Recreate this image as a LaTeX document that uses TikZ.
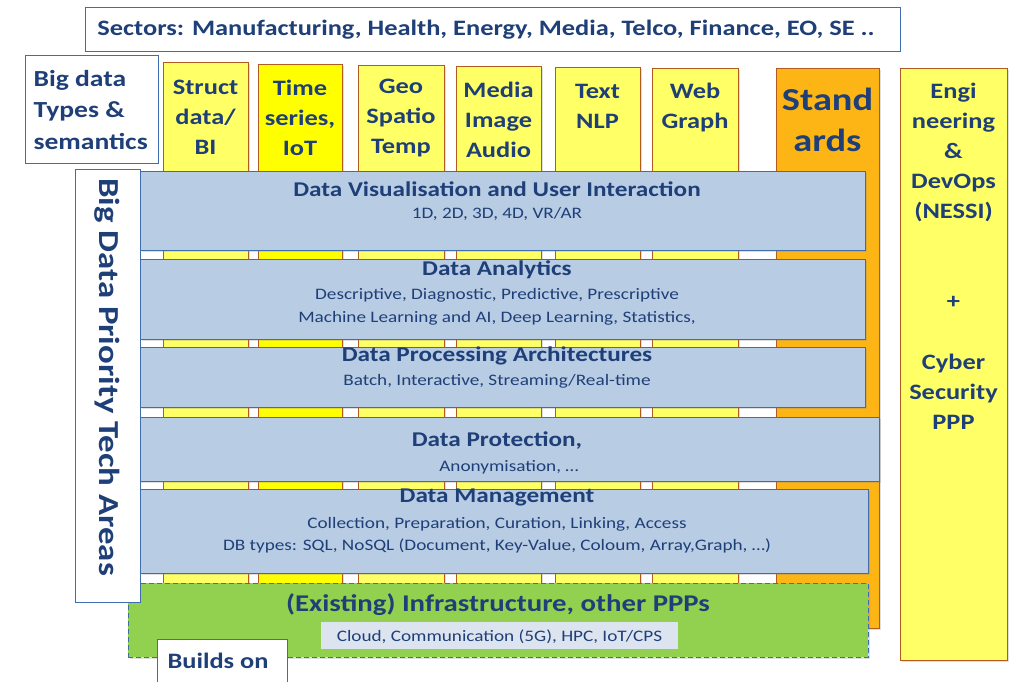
\documentclass[tikz,border=0pt]{standalone}
\usepackage{fontspec}
\setmainfont{Carlito}[FakeStretch=1.2]
\usetikzlibrary{fit,shadows}
\definecolor{txt}{HTML}{1F3F78}
\definecolor{bord}{HTML}{3F6DB0}
\definecolor{layerfill}{HTML}{B8CCE4}
\definecolor{ylw}{HTML}{FFFF66}
\definecolor{ylwB}{HTML}{FFFF00}
\definecolor{colB}{HTML}{B35A1F}
\definecolor{orng}{HTML}{FDB515}
\definecolor{grn}{HTML}{92D050}
\definecolor{cloudfill}{HTML}{DCE4EF}
\tikzset{
  shd/.style={drop shadow={opacity=0.25, shadow xshift=1.5pt, shadow yshift=-1.5pt}},
  wbox/.style={draw=bord, line width=1pt, fill=white, inner sep=0pt},
  colbox/.style={draw=colB, line width=1pt, fill=ylw, inner sep=0pt, shd},
  layerbox/.style={draw=bord, line width=1pt, fill=layerfill, inner sep=0pt, shd},
  coltxt/.style={text=txt, align=center, font=\bfseries\fontsize{22}{30}\selectfont},
  ttl/.style={text=txt, font=\bfseries\fontsize{21}{25}\selectfont},
  subt/.style={text=txt, align=center, font=\fontsize{16}{22.5}\selectfont},
}
\begin{document}
\begin{tikzpicture}[x=1pt,y=-1pt]
\useasboundingbox (0,0) rectangle (1018,681);
% columns
\node[colbox, fit={(163,62) (248,590)}] (struct) {};
\node[colbox, fill=ylwB, fit={(258,64) (342,590)}] (time) {};
\node[colbox, fit={(358,65) (444,590)}] (geo) {};
\node[colbox, fit={(456,66) (541,590)}] (media) {};
\node[colbox, fit={(555,67) (640,590)}] (textc) {};
\node[colbox, fit={(652,68) (738,590)}] (web) {};
\node[colbox, fill=orng, fit={(776,68) (879,628)}] (stand) {};
\node[colbox, fit={(900,68) (1007,660)}] (eng) {};
\node[coltxt] (structT) at (205.5,117) {Struct\\data/\\BI};
\node[coltxt] (timeT) at (300,118) {Time\\series,\\IoT};
\node[coltxt] (geoT) at (401,118) {Geo\\Spatio\\Temp};
\node[coltxt] (mediaT) at (498.5,120) {Media\\Image\\Audio};
\node[coltxt] (textT) at (597.5,106) {Text\\NLP};
\node[coltxt] (webT) at (695,108) {Web\\Graph};
\node[coltxt, font=\bfseries\fontsize{32}{41}\selectfont] (standT) at (827.5,120) {Stand\\ards};
\node[coltxt] (engT) at (953.5,152) {Engi\\neering\\\&\\DevOps\\(NESSI)};
\node[coltxt] (plusT) at (953.5,302) {+};
\node[coltxt] (cyberT) at (953.5,392) {Cyber\\Security\\PPP};
% layers
\node[layerbox, fit={(140,171) (865,250)}] (vis) {};
\node[ttl] (visT) at (497,189) {Data Visualisation and User Interaction};
\node[subt] (visS) at (497,214) {1D, 2D, 3D, 4D, VR/AR};
\node[layerbox, fit={(140,259) (865,339)}] (ana) {};
\node[ttl] (anaT) at (497,270) {Data Analytics};
\node[subt] (anaS) at (497,307) {Descriptive, Diagnostic, Predictive, Prescriptive\\Machine Learning and AI, Deep Learning, Statistics,};
\node[layerbox, fit={(140,347) (865,407)}] (proc) {};
\node[ttl] (procT) at (497,356) {Data Processing Architectures};
\node[subt] (procS) at (497,381) {Batch, Interactive, Streaming/Real-time};
\node[layerbox, fit={(139,417) (879,481)}] (prot) {};
\node[ttl] (protT) at (497,441) {Data Protection,};
\node[subt] (protS) at (509,467) {Anonymisation, \dots};
\node[layerbox, fit={(140,489) (868,573)}] (man) {};
\node[ttl] (manT) at (497,497) {Data Management};
\node[subt] (manS) at (497,535) {Collection, Preparation, Curation, Linking, Access\\DB types: SQL, NoSQL (Document, Key-Value, Coloum, Array,Graph, \dots)};
% infrastructure
\node[draw=bord, dash pattern=on 5pt off 3pt, line width=1pt, fill=grn, inner sep=0pt, shd, fit={(128,583) (868,657)}] (infra) {};
\node[text=txt, font=\bfseries\fontsize{24}{28}\selectfont] (infraT) at (498,605) {(Existing) Infrastructure, other PPPs};
\node[fill=cloudfill, inner sep=0pt, fit={(321,622) (678,649)}] (cloud) {};
\node[subt] (cloudT) at (499.5,636.5) {Cloud, Communication (5G), HPC, IoT/CPS};
% left boxes
\node[wbox, fit={(75,169) (140,602)}] (prio) {};
\node[rotate=-90, text=txt, font=\bfseries\fontsize{29}{30}\selectfont] (prioT) at (107,377) {Big Data Priority Tech Areas};
\node[wbox, fit={(157,639) (287,700)}] (builds) {};
\node[anchor=west, text=txt, font=\bfseries\fontsize{22}{26}\selectfont] (buildsT) at (164,661) {Builds on};
\node[wbox, fit={(25,55) (158,163)}] (types) {};
\node[anchor=west, text=txt, align=left, font=\bfseries\fontsize{23}{31.5}\selectfont] (typesT) at (30,110) {Big data\\Types \&\\semantics};
% sectors
\node[wbox, fit={(85,7) (900,51)}] (sect) {};
\node[text=txt, font=\bfseries\fontsize{22}{26}\selectfont] (sectT) at (486,30) {Sectors: Manufacturing, Health, Energy, Media, Telco, Finance, EO, SE ..};
\end{tikzpicture}
\end{document}
